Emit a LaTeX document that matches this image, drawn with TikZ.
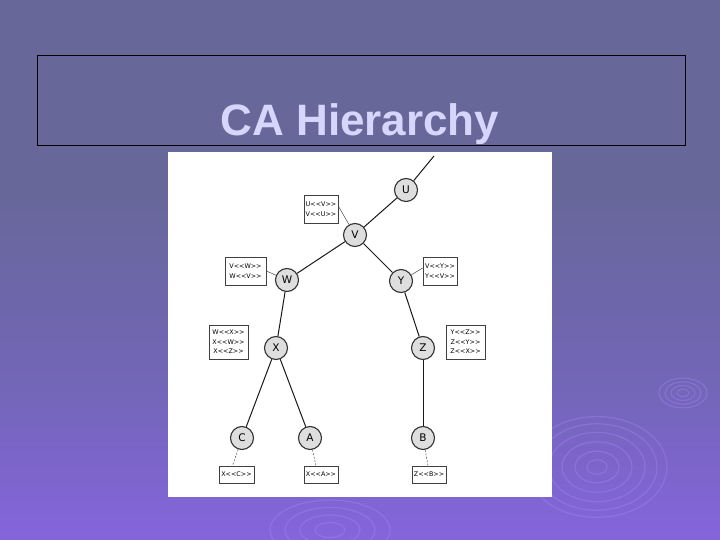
\documentclass[tikz,border=0pt]{standalone}
\usepackage{fontspec}
\setmainfont{Liberation Sans}
\newfontfamily\dvs{DejaVu Sans}
\definecolor{bgtop}{RGB}{103,103,153}
\definecolor{bgmid}{RGB}{114,102,182}
\definecolor{bglow}{RGB}{145,100,245}
\definecolor{bgbot}{RGB}{155,102,255}
\definecolor{titlecol}{RGB}{214,214,252}
\definecolor{ripple}{RGB}{175,140,255}
\definecolor{nodefill}{RGB}{222,222,222}
\pgfdeclareverticalshading{slidebg}{100bp}{
  color(0bp)=(bgbot); color(15bp)=(bglow); color(40bp)=(bgmid); color(58bp)=(bgtop); color(100bp)=(bgtop)}
\tikzset{
  ca/.style={circle, draw=black!80, line width=1.1pt, fill=nodefill,
    minimum size=23pt, inner sep=0pt, font=\dvs\fontsize{10.5}{10.5}\selectfont},
  certbox/.style={draw=black!75, line width=0.6pt, fill=white, inner sep=0pt,
    align=center, font=\dvs\fontsize{6.4}{9.5}\selectfont},
  edge/.style={line width=1pt, black!90},
  tie/.style={line width=0.5pt, black!70},
  tiedash/.style={line width=0.5pt, black!70, dashed, dash pattern=on 2pt off 1.5pt},
  rip/.style={ripple, opacity=0.32, line width=1.2pt}
}
\begin{document}
\begin{tikzpicture}[x=1pt,y=-1pt]
\useasboundingbox (0,0) rectangle (720,540);
\shade[shading=slidebg] (0,0) rectangle (720,540);
% ripples
\foreach \r in {6,12,18,24}{\draw[rip] (683,393) ellipse ({\r} and {\r*0.62});}
\foreach \r in {10,22,35,48,60,70}{\draw[rip] (597,467) ellipse ({\r} and {\r*0.72});}
\foreach \r in {15,30,45,60}{\draw[rip] (330,530) ellipse ({\r} and {\r*0.5});}
% title box
\draw[black, line width=0.8pt] (37,55) rectangle (685,145);
\node[text=titlecol, font=\bfseries\fontsize{44}{44}\selectfont, anchor=base] (title) at (360,136) {CA Hierarchy};
% figure area
\fill[white] (168,152) rectangle (552,497);
% CA nodes
\node[ca] (U) at (406,190) {U};
\node[ca] (V) at (355,235) {V};
\node[ca] (W) at (287,280) {W};
\node[ca] (Y) at (401,281) {Y};
\node[ca] (X) at (276,348) {X};
\node[ca] (Z) at (423,348) {Z};
\node[ca] (C) at (242,438) {C};
\node[ca] (A) at (310,438) {A};
\node[ca] (B) at (423,438) {B};
\coordinate (up) at (434,156);
% edges
\draw[edge] (up) -- (U);
\draw[edge] (U) -- (V);
\draw[edge] (V) -- (W);
\draw[edge] (V) -- (Y);
\draw[edge] (W) -- (X);
\draw[edge] (Y) -- (Z);
\draw[edge] (X) -- (C);
\draw[edge] (X) -- (A);
\draw[edge] (Z) -- (B);
% certificate boxes
\node[certbox, minimum width=34pt, minimum height=28pt] (uv) at (321,209) {U<<V>>\\V<<U>>};
\node[certbox, minimum width=41pt, minimum height=28pt] (vw) at (245.5,271) {V<<W>>\\W<<V>>};
\node[certbox, minimum width=34pt, minimum height=28pt] (vy) at (440,271) {V<<Y>>\\Y<<V>>};
\node[certbox, minimum width=39pt, minimum height=34pt] (wx) at (228.5,342) {W<<X>>\\X<<W>>\\X<<Z>>};
\node[certbox, minimum width=39pt, minimum height=34pt] (yz) at (465.5,342) {Y<<Z>>\\Z<<Y>>\\Z<<X>>};
\node[certbox, minimum width=35pt, minimum height=17pt] (xc) at (236.5,474.5) {X<<C>>};
\node[certbox, minimum width=34pt, minimum height=17pt] (xa) at (321,474.5) {X<<A>>};
\node[certbox, minimum width=34pt, minimum height=17pt] (zb) at (429,474.5) {Z<<B>>};
% ties
\draw[tie] ([yshift=3pt]uv.east) -- (V);
\draw[tie] (vw.east) -- (W);
\draw[tie] (Y) -- ([yshift=3pt]vy.west);
\draw[tiedash] (C) -- ([xshift=-4pt]xc.north);
\draw[tiedash] (A) -- ([xshift=-5pt]xa.north);
\draw[tiedash] (B) -- ([xshift=-1pt]zb.north);
\end{tikzpicture}
\end{document}
